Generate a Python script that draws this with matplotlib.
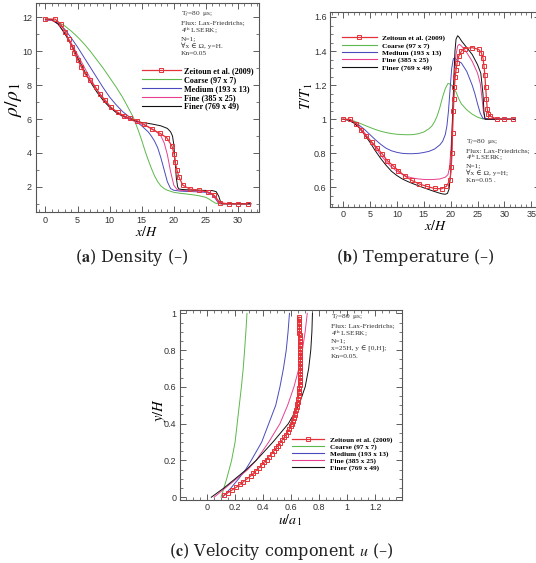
import matplotlib
matplotlib.use('Agg')
import matplotlib.pyplot as plt
from matplotlib.lines import Line2D
from matplotlib.ticker import MultipleLocator, FuncFormatter

plt.rcParams['mathtext.fontset'] = 'stix'
plt.rcParams['font.family'] = ['Liberation Sans', 'DejaVu Sans']

# ---------------- data: (a) density ----------------
xa_zeit = [0, 1.5, 2.4, 3.1, 3.6, 4.15, 4.5, 5.0, 5.55, 6.2, 6.9, 7.8, 8.5, 9.3, 10.2, 11.3, 12.2,
           13.1, 14.3, 15.3, 16.6, 17.9, 18.9, 19.7, 20.05, 20.2, 20.5, 20.8, 21.4, 22.5, 24.0,
           25.3, 26.3, 27.2, 28.6, 30.0, 31.5]
rho_zeit = [11.9, 11.9, 11.59, 11.16, 10.7, 10.26, 9.9, 9.5, 9.1, 8.65, 8.3, 7.87, 7.47, 7.12, 6.69,
            6.39, 6.2, 6.05, 5.9, 5.7, 5.4, 5.15, 4.9, 4.42, 3.93, 3.48, 2.99, 2.59, 2.1, 1.87, 1.8,
            1.7, 1.5, 1.06, 1.0, 1.0, 1.0]
xa_coarse = [0, 1, 2, 3, 4, 5, 6, 7, 8, 9, 10, 11, 12, 13, 13.7, 14.5, 15, 15.5, 16, 16.5, 17, 17.5,
             18, 18.5, 19, 20, 21, 22, 23, 24, 25, 25.5, 26, 26.5, 27, 32]
rho_coarse = [11.85, 11.83, 11.72, 11.5, 11.2, 10.85, 10.45, 10.0, 9.5, 9.0, 8.45, 7.9, 7.3, 6.6,
              6.1, 5.3, 4.75, 4.15, 3.6, 3.1, 2.65, 2.3, 2.05, 1.9, 1.8, 1.68, 1.62, 1.58, 1.53,
              1.47, 1.38, 1.28, 1.15, 1.04, 1.0, 1.0]
xa_medium = [0, 1, 2, 3, 4, 5, 6, 7, 8, 9, 10, 11, 12, 13, 14, 15, 16, 16.5, 17, 17.5, 18, 18.5,
             19, 19.5, 20, 21, 22, 23, 24, 25, 26, 26.5, 27, 32]
rho_medium = [11.85, 11.83, 11.65, 11.3, 10.8, 10.25, 9.65, 9.05, 8.45, 7.85, 7.3, 6.85, 6.45,
              6.15, 5.9, 5.6, 5.25, 5.0, 4.7, 4.3, 3.7, 3.0, 2.3, 1.9, 1.8, 1.75, 1.73, 1.72, 1.7,
              1.68, 1.55, 1.3, 1.02, 1.0]
xa_fine = [0, 1, 2, 3, 4, 5, 6, 7, 8, 9, 10, 11, 12, 13, 14, 15, 16, 17, 18, 18.5, 19, 19.5, 20,
           20.5, 21, 22, 23, 24, 25, 26, 26.5, 27, 27.3, 32]
rho_fine = [11.85, 11.83, 11.6, 11.1, 10.5, 9.8, 9.1, 8.4, 7.75, 7.2, 6.75, 6.4, 6.15, 6.0, 5.85,
            5.7, 5.55, 5.35, 5.0, 4.6, 3.9, 2.9, 2.1, 1.85, 1.8, 1.77, 1.76, 1.75, 1.73, 1.6,
            1.35, 1.05, 1.0, 1.0]
xa_finer = [0, 1, 2, 3, 4, 5, 6, 7, 8, 9, 10, 11, 12, 13, 14, 15, 16, 17, 18, 19, 19.5, 19.8, 20.0,
            20.2, 20.4, 20.6, 20.8, 21.2, 22, 24, 26, 26.6, 27.0, 27.3, 27.5, 32]
rho_finer = [11.9, 11.88, 11.6, 11.05, 10.4, 9.65, 8.9, 8.2, 7.6, 7.1, 6.7, 6.4, 6.2, 6.05, 5.9,
             5.8, 5.75, 5.68, 5.6, 5.45, 5.25, 5.0, 4.5, 3.5, 2.5, 2.0, 1.88, 1.85, 1.83, 1.8,
             1.78, 1.72, 1.45, 1.1, 1.0, 1.0]

# ---------------- data: (b) temperature ----------------
xb_zeit = [0, 1.3, 2.5, 3.4, 4.3, 5.4, 6.4, 7.3, 8.2, 9.3, 10.3, 11.5, 12.8, 14.2, 15.6, 17.0, 18.3,
           19.2, 19.9, 20.1, 20.25, 20.35, 20.5, 20.6, 20.7, 20.85, 21.0, 21.2, 21.5, 22.0, 22.6,
           24.0, 25.2, 25.7, 26.0, 26.2, 26.35, 26.5, 26.65, 26.8, 27.0, 27.4, 28.7, 30.0, 31.5]
T_zeit = [1.0, 1.0, 0.974, 0.935, 0.9, 0.864, 0.829, 0.796, 0.758, 0.727, 0.698, 0.667, 0.641, 0.62,
          0.606, 0.594, 0.592, 0.606, 0.645, 0.72, 0.8, 0.92, 1.05, 1.12, 1.19, 1.25, 1.29, 1.33,
          1.37, 1.40, 1.415, 1.42, 1.41, 1.39, 1.36, 1.31, 1.26, 1.19, 1.12, 1.06, 1.03, 1.017,
          1.0, 1.0, 1.0]
xb_coarse = [0, 1, 2, 3, 4, 5, 6, 7, 8, 9, 10, 11, 12, 13, 14, 15, 16, 16.5, 17, 17.5, 18, 18.5,
             19, 19.5, 20, 20.5, 21, 21.5, 22, 23, 24, 25, 26, 27, 32]
T_coarse = [1.0, 0.998, 0.99, 0.978, 0.965, 0.952, 0.94, 0.93, 0.922, 0.916, 0.912, 0.91, 0.909,
            0.91, 0.915, 0.925, 0.945, 0.96, 0.985, 1.02, 1.07, 1.13, 1.18, 1.21, 1.205, 1.185,
            1.16, 1.12, 1.09, 1.055, 1.03, 1.012, 1.002, 1.0, 1.0]
xb_medium = [0, 1, 2, 3, 4, 5, 6, 7, 8, 9, 10, 11, 12, 13, 14, 15, 16, 17, 18, 18.5, 19, 19.3,
             19.6, 19.9, 20.2, 20.5, 20.8, 21.2, 22, 23, 24, 24.5, 25, 25.5, 26, 32]
T_medium = [1.0, 0.997, 0.985, 0.965, 0.94, 0.91, 0.88, 0.853, 0.83, 0.815, 0.806, 0.8, 0.798,
            0.798, 0.8, 0.805, 0.812, 0.825, 0.85, 0.87, 0.91, 0.96, 1.05, 1.18, 1.3, 1.355,
            1.36, 1.345, 1.33, 1.28, 1.2, 1.15, 1.09, 1.035, 1.005, 1.0]
xb_fine = [0, 1, 2, 3, 4, 5, 6, 7, 8, 9, 10, 11, 12, 13, 14, 15, 16, 17, 18, 19, 19.5, 19.8, 20.1,
           20.4, 20.7, 21.0, 21.3, 21.6, 22, 23, 24, 25, 25.5, 25.8, 26.1, 26.4, 32]
T_fine = [1.0, 0.995, 0.98, 0.955, 0.92, 0.88, 0.835, 0.79, 0.752, 0.72, 0.695, 0.677, 0.663,
          0.655, 0.65, 0.647, 0.646, 0.647, 0.65, 0.66, 0.675, 0.72, 0.85, 1.05, 1.25, 1.38, 1.43,
          1.44, 1.43, 1.39, 1.34, 1.27, 1.21, 1.13, 1.04, 1.0, 1.0]
xb_finer = [0, 1, 2, 3, 4, 5, 6, 7, 8, 9, 10, 11, 12, 13, 14, 15, 16, 17, 18, 18.5, 19, 19.4, 19.7,
            20.0, 20.2, 20.4, 20.6, 20.8, 21.0, 21.3, 21.6, 22, 23, 24, 25, 25.6, 26.0, 26.2, 26.4,
            32]
T_finer = [1.0, 0.995, 0.978, 0.95, 0.91, 0.865, 0.815, 0.77, 0.73, 0.695, 0.67, 0.65, 0.635,
           0.622, 0.61, 0.598, 0.587, 0.576, 0.566, 0.562, 0.56, 0.565, 0.59, 0.68, 0.85, 1.05,
           1.25, 1.4, 1.47, 1.49, 1.48, 1.46, 1.42, 1.38, 1.32, 1.27, 1.15, 1.04, 1.0, 1.0]

# ---------------- data: (c) velocity u at x=25H ----------------
yc_zeit = [0.010, 0.025, 0.040, 0.055, 0.070, 0.085, 0.100, 0.115, 0.130, 0.145, 0.160, 0.175,
           0.190, 0.205, 0.220, 0.235, 0.250, 0.265, 0.280, 0.295, 0.310, 0.325, 0.340, 0.355,
           0.370, 0.385, 0.400, 0.415, 0.430, 0.445, 0.460, 0.475, 0.490, 0.505, 0.520, 0.535,
           0.550, 0.565, 0.580, 0.595, 0.610, 0.625, 0.640, 0.655, 0.670, 0.685, 0.700, 0.715,
           0.730, 0.745, 0.760, 0.775, 0.790, 0.805, 0.820, 0.835, 0.850, 0.865, 0.880, 0.895,
           0.910, 0.925, 0.940, 0.955, 0.970, 0.980]
u_zeit = [0.120, 0.150, 0.180, 0.210, 0.235, 0.260, 0.285, 0.310, 0.330, 0.350, 0.370, 0.390,
          0.405, 0.425, 0.440, 0.460, 0.475, 0.490, 0.505, 0.520, 0.535, 0.550, 0.562, 0.575,
          0.586, 0.596, 0.605, 0.612, 0.618, 0.624, 0.630, 0.635, 0.640, 0.644, 0.647, 0.650,
          0.653, 0.655, 0.657, 0.659, 0.661, 0.662, 0.663, 0.664, 0.665, 0.665, 0.666, 0.666,
          0.666, 0.666, 0.665, 0.665, 0.664, 0.664, 0.663, 0.662, 0.662, 0.661, 0.660, 0.659,
          0.659, 0.658, 0.657, 0.656, 0.655, 0.655]
yc_coarse = [0, 0.05, 0.1, 0.2, 0.3, 0.4, 0.5, 0.6, 0.7, 0.8, 0.9, 1.0]
u_coarse = [0.1, 0.12, 0.14, 0.175, 0.2, 0.215, 0.23, 0.245, 0.258, 0.268, 0.277, 0.285]
yc_medium = [0, 0.05, 0.1, 0.15, 0.2, 0.3, 0.4, 0.5, 0.6, 0.7, 0.8, 0.9, 1.0]
u_medium = [0.11, 0.17, 0.225, 0.275, 0.315, 0.39, 0.44, 0.49, 0.52, 0.545, 0.565, 0.578, 0.588]
yc_fine = [0, 0.05, 0.1, 0.15, 0.2, 0.3, 0.4, 0.5, 0.6, 0.7, 0.8, 0.9, 1.0]
u_fine = [0.05, 0.13, 0.21, 0.29, 0.35, 0.44, 0.52, 0.575, 0.62, 0.655, 0.68, 0.7, 0.715]
yc_finer = [0, 0.05, 0.1, 0.15, 0.2, 0.3, 0.4, 0.5, 0.6, 0.7, 0.8, 0.9, 1.0]
u_finer = [0.03, 0.12, 0.2, 0.28, 0.35, 0.47, 0.58, 0.655, 0.7, 0.725, 0.74, 0.748, 0.752]

labels = ['Zeitoun et al. (2009)', 'Coarse (97 x 7)', 'Medium (193 x 13)',
          'Fine (385 x 25)', 'Finer (769 x 49)']
captions = ['Density (–)', 'Temperature (–)', 'Velocity component ']

RED = '#e53238'
GREEN = '#5cb84a'
BLUE = '#4a4abf'
PINK = '#e8408f'
BLACK = '#111111'
COLORS = [RED, GREEN, BLUE, PINK, BLACK]

W, H = 536, 563
fig = plt.figure(figsize=(W / 100, H / 100), dpi=100)
SERIF = ['Liberation Serif', 'DejaVu Serif']
CAPSERIF = ['DejaVu Serif']


def add_ax(l, r, t, b):
    return fig.add_axes([l / W, 1 - b / H, (r - l) / W, (b - t) / H])


def fmt(v, pos):
    return '%g' % round(v, 6)


def style(ax, xmaj, xmin, ymaj, ymin):
    ax.xaxis.set_major_locator(MultipleLocator(xmaj))
    ax.xaxis.set_minor_locator(MultipleLocator(xmin))
    ax.yaxis.set_major_locator(MultipleLocator(ymaj))
    ax.yaxis.set_minor_locator(MultipleLocator(ymin))
    ax.xaxis.set_major_formatter(FuncFormatter(fmt))
    ax.yaxis.set_major_formatter(FuncFormatter(fmt))
    ax.tick_params(which='both', direction='in', top=True, right=True,
                   labelsize=6.5, labelcolor='#333333', color='#444444', pad=2.5)
    ax.tick_params(which='major', length=4, width=0.6)
    ax.tick_params(which='minor', length=2, width=0.5)
    for s in ax.spines.values():
        s.set_linewidth(0.8)
        s.set_color('#555555')


def ftext(x, y, s, **kw):
    fig.text(x / W, 1 - y / H, s, **kw)


def annot(x, ys, lines):
    for y, s in zip(ys, lines):
        ftext(x, y, s, family=SERIF, fontsize=5.3, va='center', ha='left', color='#333333')


def plot_series(ax, xs, ys, swap=False, ms=3.2):
    for i, (xv, yv) in enumerate(zip(xs, ys)):
        if swap:
            xv, yv = yv, xv
        if i == 0:
            ax.plot(xv, yv, color=COLORS[i], lw=0.9, marker='s', ms=ms, mfc='none',
                    mew=0.7, zorder=5)
        else:
            ax.plot(xv, yv, color=COLORS[i], lw=0.7, zorder=3 + i * 0.1)


def legend(ax, x, ytop, hl, pad, size, spacing):
    handles = [Line2D([], [], color=RED, lw=0.9, marker='s', ms=3.2, mfc='none', mew=0.7)]
    handles += [Line2D([], [], color=c, lw=0.8) for c in COLORS[1:]]
    ax.legend(handles, labels, loc='upper left', bbox_to_anchor=(x / W, 1 - ytop / H),
              bbox_transform=fig.transFigure, frameon=False, numpoints=1,
              prop=dict(family=SERIF, weight='bold', size=size),
              handlelength=hl, handletextpad=pad, labelspacing=spacing,
              borderpad=0, borderaxespad=0)


# ---------------- panel (a) ----------------
axa = add_ax(35.5, 258.5, 3, 212.3)
plot_series(axa, [xa_zeit, xa_coarse, xa_medium, xa_fine, xa_finer],
            [rho_zeit, rho_coarse, rho_medium, rho_fine, rho_finer])
axa.set_xlim(-1.55, 33.2)
axa.set_ylim(0.5, 12.85)
style(axa, 5, 1, 2, 1)
legend(axa, 142, 67.3, 4.7, 0.4, 5.9, 0.1)
annot(181, [15, 23, 31, 38.5, 46, 53.5],
      ['T$_f$=80  μs;', 'Flux: Lax-Friedrichs;', '4$^{\\rm th}$ LSERK;', 'N=1;',
       '∀x ∈ Ω, y=H.', 'Kn=0.05'])
ftext(14, 100, r'$\rho/\rho_{\,1}$', fontsize=14, rotation=90, ha='center', va='center')
ftext(147, 231.5, r'$x/H$', fontsize=10, ha='center', va='center')

# ---------------- panel (b) ----------------
axb = add_ax(330, 540, 11.7, 206.7)
plot_series(axb, [xb_zeit, xb_coarse, xb_medium, xb_fine, xb_finer],
            [T_zeit, T_coarse, T_medium, T_fine, T_finer])
axb.set_xlim(-2.42, 36.6)
axb.set_ylim(0.487, 1.631)
style(axb, 5, 1, 0.2, 0.05)
legend(axb, 342, 34.6, 4.7, 0.8, 5.3, 0.12)
annot(466, [143, 151, 158, 166, 173, 181],
      ['T$_f$=80  μs;', 'Flux: Lax-Friedrichs;', '4$^{\\rm th}$ LSERK;', 'N=1;',
       '∀x ∈ Ω, y=H;', 'Kn=0.05 .'])
ftext(306.5, 96, r'$T/T_{\,1}$', fontsize=10.5, rotation=90, ha='center', va='center')
ftext(436, 225.5, r'$x/H$', fontsize=10, ha='center', va='center')

# ---------------- panel (c) ----------------
axc = add_ax(180, 402.3, 310, 500)
plot_series(axc, [yc_zeit, yc_coarse, yc_medium, yc_fine, yc_finer],
            [u_zeit, u_coarse, u_medium, u_fine, u_finer], swap=True, ms=3.0)
axc.set_xlim(-0.193, 1.393)
axc.set_ylim(-0.015, 1.018)
style(axc, 0.2, 0.05, 0.2, 0.05)
legend(axc, 292, 436.8, 4.4, 0.8, 5.2, 0.08)
annot(331, [318, 326, 334, 341, 349, 357],
      ['T$_f$=80  μs;', 'Flux: Lax-Friedrichs;', '4$^{\\rm th}$ LSERK;', 'N=1;',
       'x=25H, y ∈ [0,H];', 'Kn=0.05.'])
ftext(160, 410, r'$y/H$', fontsize=10.5, rotation=90, ha='center', va='center')
ftext(290, 520, r'$u/a_{\,1}$', fontsize=10, ha='center', va='center')

# ---------------- captions ----------------
ftext(132, 258, '($\\mathbf{a}$) ' + captions[0], family=CAPSERIF, fontsize=11.5,
      ha='center', va='center', color='#222222')
ftext(415, 257, '($\\mathbf{b}$) ' + captions[1], family=CAPSERIF, fontsize=11.5,
      ha='center', va='center', color='#222222')
ftext(281, 552, '($\\mathbf{c}$) ' + captions[2] + '$u$ (–)', family=CAPSERIF,
      fontsize=11.5, ha='center', va='center', color='#222222')

fig.savefig('out.png', dpi=100)
